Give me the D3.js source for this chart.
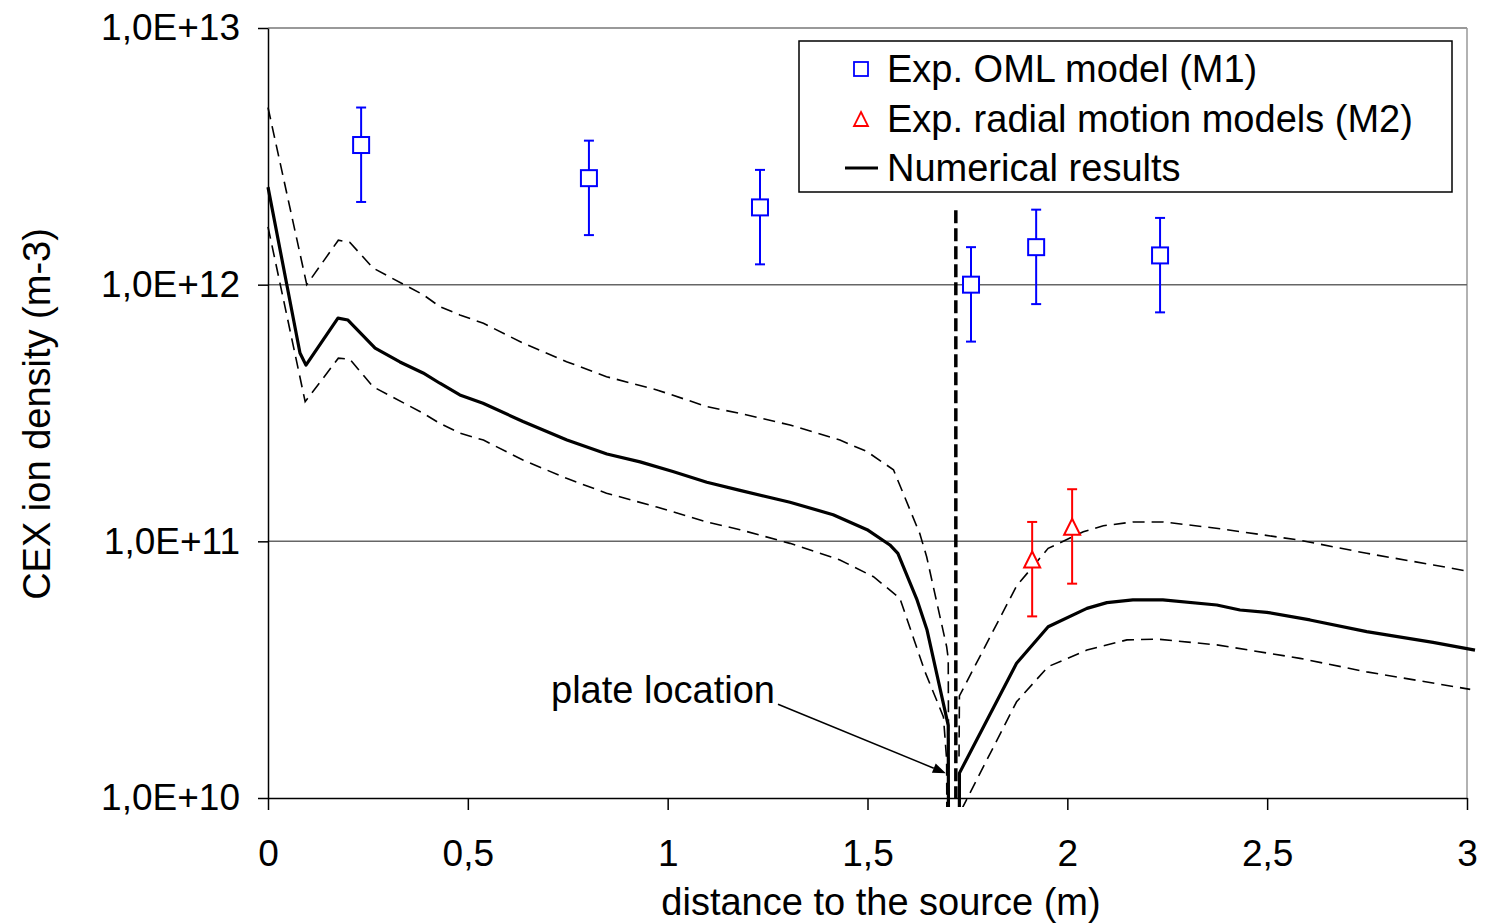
<!DOCTYPE html>
<html>
<head>
<meta charset="utf-8">
<script src="https://cdn.jsdelivr.net/npm/d3@7"></script>
<style>
  body { margin: 0; background: #fff; }
  svg { display: block; }
  text { font-family: "Liberation Sans", Arial, sans-serif; fill: #000; }
</style>
</head>
<body>
<svg id="chart" width="1488" height="924"></svg>
<script>
// Axis ticks
const xTickValues = [0, 0.5, 1, 1.5, 2, 2.5, 3];
const xTickLabels = ["0", "0,5", "1", "1,5", "2", "2,5", "3"];
const yTickValues = [1e10, 1e11, 1e12, 1e13];
const yTickLabels = ["1,0E+10", "1,0E+11", "1,0E+12", "1,0E+13"];

// Numerical results (solid) – values below 1E+10 at the plate fall off the axis
const numX = [0, 0.080, 0.095, 0.175, 0.200, 0.268, 0.330, 0.388, 0.430, 0.480, 0.538, 0.638,
  0.748, 0.848, 0.931, 1.013, 1.098, 1.181, 1.306, 1.414, 1.499, 1.556, 1.576, 1.624, 1.649,
  1.702, 1.704, 1.729, 1.730, 1.873, 1.952, 2.049, 2.099, 2.164, 2.239, 2.374, 2.432, 2.499,
  2.607, 2.749, 2.915, 3.020];
const numY = [2.40e12, 5.42e11, 4.86e11, 7.41e11, 7.28e11, 5.66e11, 5.0e11, 4.53e11, 4.13e11,
  3.72e11, 3.45e11, 2.93e11, 2.48e11, 2.19e11, 2.04e11, 1.87e11, 1.70e11, 1.58e11, 1.42e11,
  1.27e11, 1.11e11, 9.68e10, 8.98e10, 5.91e10, 4.51e10, 1.92e10, 1e9, 1e9, 1.25e10, 3.35e10,
  4.65e10, 5.48e10, 5.77e10, 5.91e10, 5.91e10, 5.65e10, 5.40e10, 5.29e10, 4.94e10, 4.45e10,
  4.04e10, 3.77e10];

// Upper uncertainty bound (dashed); null splits the curve at the plate
const upperX = [0, 0.097, 0.176, 0.205, 0.263, 0.389, 0.430, 0.480, 0.539, 0.639, 0.747, 0.847,
  0.973, 1.098, 1.181, 1.306, 1.431, 1.498, 1.565, 1.631, 1.648, 1.698, 1.702, 1.703, 1.716,
  1.729, 1.730, 1.873, 1.952, 2.040, 2.090, 2.165, 2.240, 2.382, 2.582, 2.749, 2.916, 3.008];
const upperY = [4.9e12, 1.0e12, 1.49e12, 1.46e12, 1.16e12, 9.12e11, 8.21e11, 7.62e11, 7.07e11,
  5.91e11, 5.01e11, 4.38e11, 3.89e11, 3.35e11, 3.15e11, 2.84e11, 2.48e11, 2.24e11, 1.90e11,
  1.07e11, 8.71e10, 3.89e10, 3.50e10, 1.3e10, null, 1.45e10, 2.5e10, 6.7e10, 9.39e10, 1.09e11,
  1.15e11, 1.19e11, 1.19e11, 1.12e11, 1.01e11, 8.98e10, 8.09e10, 7.62e10];

// Lower uncertainty bound (dashed)
const lowerX = [0, 0.093, 0.176, 0.205, 0.263, 0.389, 0.430, 0.480, 0.539, 0.639, 0.747, 0.847,
  0.973, 1.098, 1.181, 1.306, 1.431, 1.515, 1.581, 1.644, 1.690, 1.698, 1.701, 1.718, 1.735,
  1.873, 1.952, 2.049, 2.149, 2.224, 2.374, 2.582, 2.749, 3.008];
const lowerY = [1.68e12, 3.50e11, 5.17e11, 5.12e11, 4.00e11, 3.15e11, 2.88e11, 2.64e11, 2.48e11,
  2.07e11, 1.76e11, 1.54e11, 1.36e11, 1.19e11, 1.11e11, 9.82e10, 8.46e10, 7.28e10, 6.00e10,
  3.10e10, 2.07e10, 1.41e10, 1e9, null, 9e9, 2.37e10, 3.25e10, 3.77e10, 4.13e10, 4.16e10,
  3.95e10, 3.50e10, 3.10e10, 2.65e10];

// Experimental points: OML model (M1) and radial motion models (M2), ±40 % error bars
const m1X = [0.233, 0.803, 1.231, 1.759, 1.922, 2.232];
const m1Y = [3.5e12, 2.6e12, 2.0e12, 1.0e12, 1.4e12, 1.3e12];
const m1Err = [1.4e12, 1.04e12, 0.8e12, 0.4e12, 0.56e12, 0.52e12];
const m2X = [1.912, 2.012];
const m2Y = [8.5e10, 1.14e11];
const m2Err = [3.4e10, 4.56e10];

// Plate position marker
const plateX = 1.721;
const plateRange = [1e10, 1.95e12];

const legendLabels = ["Exp. OML model (M1)", "Exp. radial motion models (M2)", "Numerical results"];

const svg = d3.select("#chart");
const plotLeft = 268, plotRight = 1467, plotTop = 28, plotBottom = 798;
const x = d3.scaleLinear().domain([0, 3]).range([plotLeft, plotRight]);
const y = d3.scaleLog().domain([1e10, 1e13]).range([plotBottom, plotTop]);

// Frame: top and right edges, horizontal gridlines
svg.append("line").attr("x1", plotLeft).attr("x2", plotRight).attr("y1", y(1e13)).attr("y2", y(1e13))
  .attr("stroke", "#777").attr("stroke-width", 1.5);
svg.append("line").attr("x1", x(3)).attr("x2", x(3)).attr("y1", plotTop).attr("y2", plotBottom)
  .attr("stroke", "#999").attr("stroke-width", 1.5);
svg.append("g").selectAll("line").data([1e11, 1e12]).join("line")
  .attr("x1", plotLeft).attr("x2", plotRight).attr("y1", d => y(d)).attr("y2", d => y(d))
  .attr("stroke", "#666").attr("stroke-width", 1.5);

// Axes
const xAxis = svg.append("g").attr("transform", `translate(0,${plotBottom})`)
  .call(d3.axisBottom(x).tickValues(xTickValues).tickFormat((d, i) => xTickLabels[i])
    .tickSize(12).tickSizeOuter(0).tickPadding(30));
const yAxis = svg.append("g").attr("transform", `translate(${plotLeft},0)`)
  .call(d3.axisLeft(y).tickValues(yTickValues).tickFormat((d, i) => yTickLabels[i])
    .tickSize(10).tickSizeOuter(0).tickPadding(18));
[xAxis, yAxis].forEach(g => {
  g.select(".domain").attr("stroke", "#000").attr("stroke-width", 1.5);
  g.selectAll(".tick line").attr("stroke", "#000").attr("stroke-width", 1.5);
  g.selectAll(".tick text").attr("font-size", 37).attr("fill", "#000")
    .style("font-family", '"Liberation Sans", Arial, sans-serif');
});

// Axis titles
svg.append("text").attr("x", 881).attr("y", 915).attr("text-anchor", "middle")
  .attr("font-size", 38).text("distance to the source (m)");
svg.append("text").attr("transform", "translate(50,414) rotate(-90)").attr("text-anchor", "middle")
  .attr("font-size", 38).text("CEX ion density (m-3)");

// Curves, clipped just below the x axis
svg.append("clipPath").attr("id", "plotClip").append("rect")
  .attr("x", plotLeft - 5).attr("y", 0).attr("width", 1488 - plotLeft + 5).attr("height", plotBottom + 9);
const plot = svg.append("g").attr("clip-path", "url(#plotClip)");

const line = d3.line().defined(d => d[1] != null).x(d => x(d[0])).y(d => y(d[1]));
const zip = (xs, ys) => xs.map((v, i) => [v, ys[i]]);

plot.append("path").datum(zip(upperX, upperY)).attr("d", line)
  .attr("fill", "none").attr("stroke", "#000").attr("stroke-width", 1.6).attr("stroke-dasharray", "12,7");
plot.append("path").datum(zip(lowerX, lowerY)).attr("d", line)
  .attr("fill", "none").attr("stroke", "#000").attr("stroke-width", 1.6).attr("stroke-dasharray", "12,7");
plot.append("path").datum(zip(numX, numY)).attr("d", line)
  .attr("fill", "none").attr("stroke", "#000").attr("stroke-width", 3.2).attr("stroke-linejoin", "round");

// Plate location marker
svg.append("line").attr("x1", x(plateX)).attr("x2", x(plateX))
  .attr("y1", y(plateRange[1])).attr("y2", y(plateRange[0]))
  .attr("stroke", "#000").attr("stroke-width", 3.5).attr("stroke-dasharray", "13,5");

// Annotation with arrow
const arrowFrom = [1.276, 2.32e10], arrowTo = [1.696, 1.25e10];
const ax1 = x(arrowFrom[0]), ay1 = y(arrowFrom[1]), ax2 = x(arrowTo[0]), ay2 = y(arrowTo[1]);
const ang = Math.atan2(ay2 - ay1, ax2 - ax1);
const headLen = 13, headW = 5;
const bx = ax2 - headLen * Math.cos(ang), by = ay2 - headLen * Math.sin(ang);
svg.append("line").attr("x1", ax1).attr("y1", ay1).attr("x2", bx).attr("y2", by)
  .attr("stroke", "#000").attr("stroke-width", 1.5);
svg.append("path").attr("d",
  `M${ax2},${ay2}L${bx - headW * Math.sin(ang)},${by + headW * Math.cos(ang)}L${bx + headW * Math.sin(ang)},${by - headW * Math.cos(ang)}Z`)
  .attr("fill", "#000");
svg.append("text").attr("x", ax1 - 3).attr("y", 703).attr("text-anchor", "end")
  .attr("font-size", 38).text("plate location");

// Error bars and markers
function drawSeries(xs, ys, errs, color, shape) {
  const g = svg.append("g").attr("stroke", color).attr("stroke-width", 2).attr("fill", "none");
  xs.forEach((xv, i) => {
    const cx = x(xv), hi = y(ys[i] + errs[i]), lo = y(ys[i] - errs[i]), cy = y(ys[i]);
    g.append("line").attr("x1", cx).attr("x2", cx).attr("y1", hi).attr("y2", lo);
    g.append("line").attr("x1", cx - 5).attr("x2", cx + 5).attr("y1", hi).attr("y2", hi);
    g.append("line").attr("x1", cx - 5).attr("x2", cx + 5).attr("y1", lo).attr("y2", lo);
    if (shape === "square") {
      g.append("rect").attr("x", cx - 8).attr("y", cy - 8).attr("width", 16).attr("height", 16)
        .attr("fill", "#fff");
    } else {
      g.append("path").attr("d", `M${cx},${cy - 8}L${cx + 8},${cy + 8}L${cx - 8},${cy + 8}Z`)
        .attr("fill", "#fff");
    }
  });
}
drawSeries(m1X, m1Y, m1Err, "#0000ff", "square");
drawSeries(m2X, m2Y, m2Err, "#ff0000", "triangle");

// Legend
const lg = svg.append("g");
lg.append("rect").attr("x", 799).attr("y", 41).attr("width", 653).attr("height", 151)
  .attr("fill", "#fff").attr("stroke", "#000").attr("stroke-width", 1.5);
const rowY = [69, 119, 168];
lg.append("rect").attr("x", 854).attr("y", rowY[0] - 7).attr("width", 14).attr("height", 14)
  .attr("fill", "none").attr("stroke", "#0000ff").attr("stroke-width", 1.8);
lg.append("path").attr("d", `M861,${rowY[1] - 7}L868,${rowY[1] + 7}L854,${rowY[1] + 7}Z`)
  .attr("fill", "none").attr("stroke", "#ff0000").attr("stroke-width", 1.8);
lg.append("line").attr("x1", 845).attr("x2", 878).attr("y1", rowY[2]).attr("y2", rowY[2])
  .attr("stroke", "#000").attr("stroke-width", 3);
lg.selectAll("text.lbl").data(legendLabels).join("text").attr("class", "lbl")
  .attr("x", 887).attr("y", (d, i) => rowY[i] + 13).attr("font-size", 38).text(d => d);
</script>
</body>
</html>
